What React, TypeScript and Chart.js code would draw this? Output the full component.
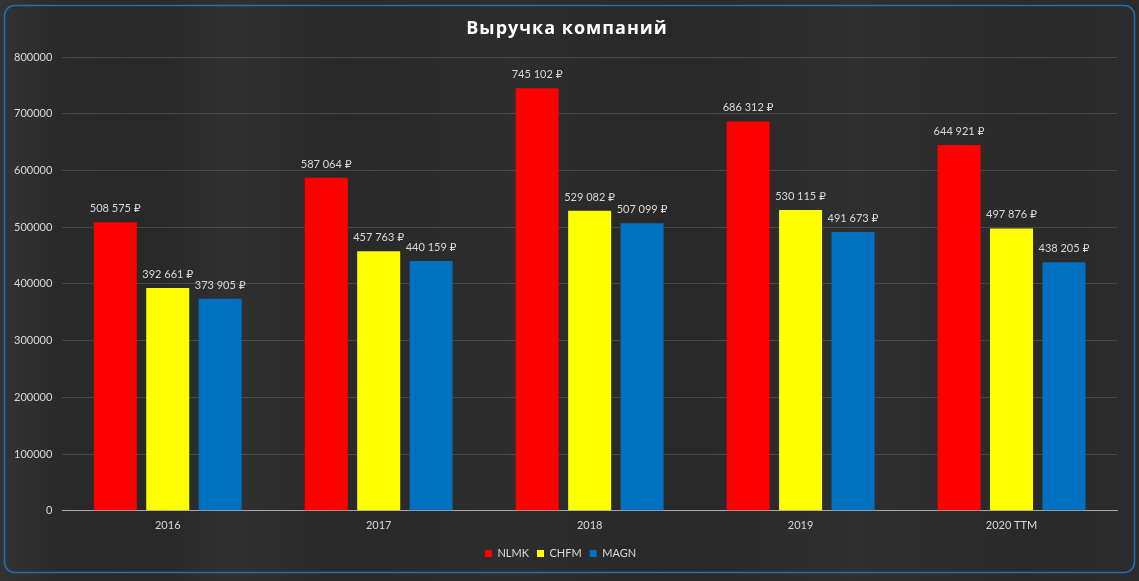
import React, { useEffect, useRef } from "react";
import { Chart, registerables } from "chart.js";

Chart.register(...registerables);

const categories = ["2016", "2017", "2018", "2019", "2020 TTM"];
const seriesNames = ["NLMK", "CHFM", "MAGN"];
const nlmkValues = [508575, 587064, 745102, 686312, 644921];
const chfmValues = [392661, 457763, 529082, 530115, 497876];
const magnValues = [373905, 440159, 507099, 491673, 438205];
const yMin = 0;
const yMax = 800000;
const yStep = 100000;
const chartTitle = "Выручка компаний";

const seriesColors = ["#ff0000", "#ffff00", "#0070c0"];
const textColor = "#d9d9d9";
const fontFamily = "Lato, 'Open Sans', 'DejaVu Sans', sans-serif";
const titleFont = "'Open Sans', 'DejaVu Sans', sans-serif";

function formatRub(v: number): string {
  return String(v).replace(/\B(?=(\d{3})+(?!\d))/g, " ") + " ₽";
}

const backgroundPlugin = {
  id: "woodBackground",
  beforeDraw(chart: any) {
    const { ctx, width, height } = chart;
    ctx.save();
    const g = ctx.createLinearGradient(0, 0, width, 0);
    g.addColorStop(0, "#333333");
    g.addColorStop(0.05, "#2a2a2a");
    g.addColorStop(0.14, "#282828");
    g.addColorStop(0.2, "#303030");
    g.addColorStop(0.3, "#292929");
    g.addColorStop(0.45, "#2d2d2d");
    g.addColorStop(0.6, "#282828");
    g.addColorStop(0.75, "#2f2f2f");
    g.addColorStop(0.9, "#2a2a2a");
    g.addColorStop(1, "#2c2c2c");
    ctx.fillStyle = g;
    ctx.fillRect(0, 0, width, height);
    ctx.restore();
  },
  afterDraw(chart: any) {
    const { ctx } = chart;
    ctx.save();
    ctx.strokeStyle = "#1c6fb8";
    ctx.lineWidth = 1.5;
    const x = 4.5, y = 5.5, w = 1130, h = 567, r = 10;
    ctx.beginPath();
    ctx.moveTo(x + r, y);
    ctx.lineTo(x + w - r, y);
    ctx.arcTo(x + w, y, x + w, y + r, r);
    ctx.lineTo(x + w, y + h - r);
    ctx.arcTo(x + w, y + h, x + w - r, y + h, r);
    ctx.lineTo(x + r, y + h);
    ctx.arcTo(x, y + h, x, y + h - r, r);
    ctx.lineTo(x, y + r);
    ctx.arcTo(x, y, x + r, y, r);
    ctx.closePath();
    ctx.stroke();

    ctx.fillStyle = "#ffffff";
    ctx.font = `bold 18px ${titleFont}`;
    (ctx as any).letterSpacing = "1px";
    ctx.textAlign = "center";
    ctx.textBaseline = "middle";
    ctx.fillText(chartTitle, 567, 29);
    ctx.restore();
  },
};

const dataLabelPlugin = {
  id: "barLabels",
  afterDatasetsDraw(chart: any) {
    const { ctx } = chart;
    ctx.save();
    ctx.fillStyle = textColor;
    ctx.font = `11px ${fontFamily}`;
    ctx.textAlign = "center";
    ctx.textBaseline = "alphabetic";
    chart.data.datasets.forEach((ds: any, di: number) => {
      const meta = chart.getDatasetMeta(di);
      meta.data.forEach((bar: any, i: number) => {
        ctx.fillText(formatRub(ds.data[i]), bar.x, bar.y - 10);
      });
    });
    ctx.restore();
  },
};

export default function App() {
  const canvasRef = useRef<HTMLCanvasElement | null>(null);

  useEffect(() => {
    const canvas = canvasRef.current;
    if (!canvas) return;
    const values = [nlmkValues, chfmValues, magnValues];
    const chart = new Chart(canvas, {
      type: "bar",
      data: {
        labels: categories,
        datasets: seriesNames.map((name, i) => ({
          label: name,
          data: values[i],
          backgroundColor: seriesColors[i],
          borderWidth: 0,
          categoryPercentage: 0.746,
          barPercentage: 0.82,
        })),
      },
      options: {
        animation: false,
        responsive: false,
        maintainAspectRatio: false,
        layout: { padding: { top: 57, left: 4, right: 22, bottom: 12 } },
        plugins: {
          title: { display: false },
          tooltip: { enabled: false },
          legend: {
            display: true,
            position: "bottom",
            labels: {
              color: textColor,
              boxWidth: 7,
              boxHeight: 7,
              padding: 8,
              font: { family: fontFamily, size: 11 },
            },
          },
        },
        scales: {
          x: {
            grid: { display: false, drawTicks: false },
            border: { display: true, color: "#a6a6a6", width: 1 },
            ticks: {
              color: textColor,
              font: { family: fontFamily, size: 11 },
              padding: 8,
            },
          },
          y: {
            min: yMin,
            max: yMax,
            grid: { color: "rgba(255,255,255,0.14)", drawTicks: false },
            border: { display: false },
            ticks: {
              stepSize: yStep,
              color: textColor,
              font: { family: fontFamily, size: 11 },
              padding: 10,
              callback: (v: any) => String(v),
            },
          },
        },
      },
      plugins: [backgroundPlugin, dataLabelPlugin],
    });
    return () => chart.destroy();
  }, []);

  return (
    <div style={{ position: "fixed", left: 0, top: 0, width: 1139, height: 581 }}>
      <canvas ref={canvasRef} width={1139} height={581} style={{ display: "block" }} />
    </div>
  );
}
